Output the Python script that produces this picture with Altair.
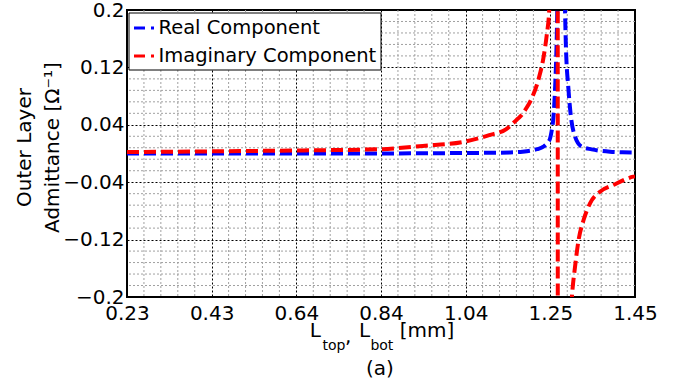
import altair as alt
import pandas as pd

FONT = "DejaVu Sans"

# ---- data ----
series_names = ["Real Component", "Imaginary Component"]
series_colors = ["#0000ff", "#ff0000"]

real_x = [0.23, 0.40, 0.60, 0.80, 1.00, 1.10, 1.15, 1.18, 1.20, 1.215, 1.23, 1.24,
          1.246, 1.250, 1.254, 1.258, 1.262, 1.266, 1.270, 1.274, 1.278, 1.282,
          1.284, 1.290, 1.2956, 1.306, 1.322, 1.346, 1.39, 1.42, 1.45]
real_y = [0.0, 0.0, 0.0, 0.0, 0.0005, 0.001, 0.0015, 0.0025, 0.004, 0.006, 0.0095, 0.015,
          0.021, 0.032, 0.05, 0.09, 0.16, 0.3, 0.5, 0.6, 0.4, 0.2,
          0.151, 0.091, 0.054, 0.0234, 0.0095, 0.0058, 0.0025, 0.0018, 0.0015]

imag_x = [0.23, 0.40, 0.60, 0.84, 0.94, 1.04, 1.10, 1.14, 1.166, 1.174, 1.19, 1.202,
          1.219, 1.230, 1.238, 1.244, 1.250, 1.256, 1.260, 1.263, 1.266, 1.272,
          1.28, 1.29, 1.2985, 1.306, 1.3145, 1.3265, 1.342, 1.366, 1.398, 1.446, 1.45]
imag_y = [0.002, 0.0028, 0.004, 0.006, 0.0106, 0.0165, 0.0255, 0.0337, 0.047, 0.0513, 0.064, 0.077,
          0.105, 0.133, 0.165, 0.2, 0.3, 0.55, 1.2, 4.0, -4.0, -1.2,
          -0.55, -0.3, -0.2, -0.158, -0.1206, -0.0927, -0.0694, -0.0532, -0.0439, -0.0323, -0.0318]

x_ticks = [0.23, 0.4333, 0.6367, 0.84, 1.0433, 1.2467, 1.45]
y_ticks = [-0.2, -0.12, -0.04, 0.04, 0.12, 0.2]
x_minor = [0.2707, 0.3113, 0.3520, 0.3927, 0.4740, 0.5147, 0.5553, 0.5960,
           0.6773, 0.7180, 0.7587, 0.7993, 0.8807, 0.9213, 0.9620, 1.0027,
           1.0840, 1.1247, 1.1653, 1.2060, 1.2873, 1.3280, 1.3687, 1.4093]
y_minor = [-0.184, -0.168, -0.152, -0.136, -0.104, -0.088, -0.072, -0.056,
           -0.024, -0.008, 0.008, 0.024, 0.056, 0.072, 0.088, 0.104,
           0.136, 0.152, 0.168, 0.184]
x_domain = [0.23, 1.45]
y_domain = [-0.2, 0.2]

df = pd.concat([
    pd.DataFrame({"x": real_x, "y": real_y, "series": series_names[0]}),
    pd.DataFrame({"x": imag_x, "y": imag_y, "series": series_names[1]}),
], ignore_index=True)
df["order"] = df["series"].map({series_names[0]: 0, series_names[1]: 1})

xscale = alt.Scale(domain=x_domain, nice=False, zero=False)
yscale = alt.Scale(domain=y_domain, nice=False, zero=False)

x_axis = alt.Axis(
    values=x_ticks, format=".2f", title=None, grid=True, gridColor="black",
    gridDash=[2, 2], gridWidth=1, domain=False, ticks=False,
    labelFlush=False, labelOverlap=False, labelPadding=6,
    labelFont=FONT, labelFontSize=20, labelColor="black")
y_axis = alt.Axis(
    values=y_ticks, format=".2~f", grid=True, gridColor="black",
    gridDash=[2, 2], gridWidth=1, domain=False, ticks=False,
    labelFlush=False, labelOverlap=False, labelPadding=3,
    labelFont=FONT, labelFontSize=20, labelColor="black",
    title=["Outer Layer", "Admittance [Ω⁻¹]"], titleFont=FONT,
    titleFontSize=20, titleFontWeight="normal", titleColor="black",
    titleAngle=270, titleX=-97, titleY=137, titleAlign="center",
    titleBaseline="alphabetic", titleLineHeight=28)

minor_x = alt.Chart(pd.DataFrame({"x": x_minor})).mark_rule(
    color="#a0a0a0", strokeWidth=1, strokeDash=[2, 2]
).encode(x=alt.X("x:Q", scale=xscale, axis=x_axis))

minor_y = alt.Chart(pd.DataFrame({"y": y_minor})).mark_rule(
    color="#a0a0a0", strokeWidth=1, strokeDash=[2, 2]
).encode(y=alt.Y("y:Q", scale=yscale, axis=y_axis))

lines = alt.Chart(df).mark_line(
    strokeWidth=4, strokeDash=[12, 5], clip=True, interpolate="monotone"
).encode(
    x=alt.X("x:Q", scale=xscale, axis=x_axis),
    y=alt.Y("y:Q", scale=yscale, axis=y_axis),
    color=alt.Color("series:N", title=None,
                    scale=alt.Scale(domain=series_names, range=series_colors),
                    legend=alt.Legend(
                        orient="none", legendX=1.5, legendY=2.5,
                        symbolType="stroke", symbolSize=400, symbolStrokeWidth=3,
                        symbolDash=[11, 6, 3, 10], labelFont=FONT, labelFontSize=19.5,
                        labelColor="black", labelLimit=400, labelOffset=3,
                        padding=4, rowPadding=7, strokeColor="black",
                        fillColor="white")),
    detail="series:N",
    order="order:Q",
)


def label(txt, px, py, size=20, align="left"):
    return alt.Chart(alt.Data(values=[{}])).mark_text(
        text=txt, font=FONT, fontSize=size, align=align, baseline="alphabetic",
        color="black"
    ).encode(x=alt.value(px), y=alt.value(py))


texts = [
    label("L", 182.7, 327),
    label("top", 195.4, 339.5, size=14),
    label(",", 218, 332.5),
    label("L", 232, 327),
    label("bot", 243.4, 339.5, size=14),
    label("[mm]", 272.7, 327),
    label("(a)", 253, 365, align="center"),
]

chart = alt.layer(minor_x, minor_y, lines, *texts).properties(
    width=508, height=287,
    autosize=alt.AutoSizeParams(type="none"),
    padding={"left": 127, "top": 10, "right": 48, "bottom": 91},
    background="white",
).configure_view(stroke="black", strokeWidth=2)

chart.save("out.html", embed_options={"renderer": "svg", "actions": False})
